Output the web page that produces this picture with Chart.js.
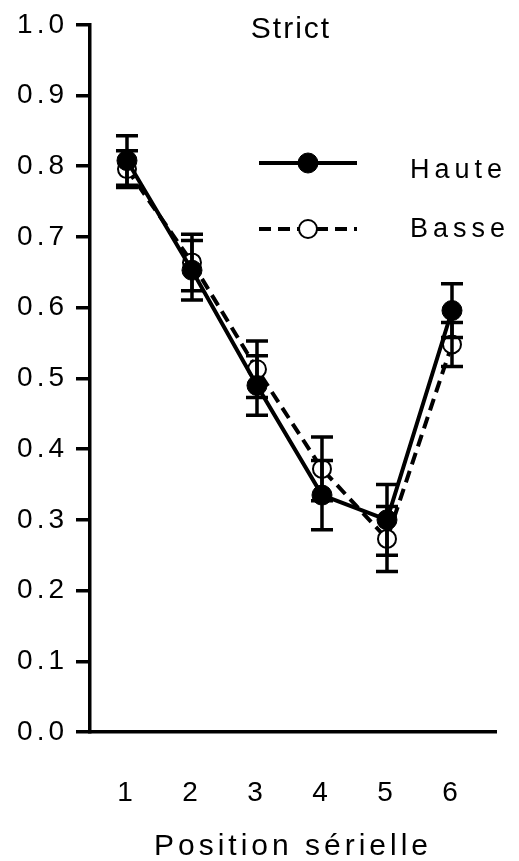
<!DOCTYPE html>
<html>
<head>
<meta charset="utf-8">
<title>Strict</title>
<script src="https://cdn.jsdelivr.net/npm/chart.js@4.4.1/dist/chart.umd.min.js"></script>
<style>
  html, body { margin: 0; padding: 0; background: #fff; }
  canvas { display: block; }
</style>
</head>
<body>
<canvas id="chart" width="519" height="861"></canvas>
<script>
// data
const positions = [1, 2, 3, 4, 5, 6];
const hauteValues = [0.808, 0.653, 0.490, 0.335, 0.300, 0.596];
const hauteErrors = [0.035, 0.042, 0.042, 0.049, 0.050, 0.038];
const basseValues = [0.796, 0.664, 0.513, 0.372, 0.273, 0.548];
const basseErrors = [0.026, 0.040, 0.040, 0.045, 0.046, 0.031];
const yTickValues = [0, 0.1, 0.2, 0.3, 0.4, 0.5, 0.6, 0.7, 0.8, 0.9, 1.0];
const seriesNames = ['Haute', 'Basse'];
const chartTitle = 'Strict';
const xTitle = 'Position sérielle';

const FONT = 'Liberation Sans, Arial, sans-serif';

document.addEventListener('DOMContentLoaded', () => {
    const ctx = document.getElementById('chart').getContext('2d');

    // vertical error bars with caps, drawn over the lines
    const errorBars = {
        id: 'errorBars',
        afterDatasetsDraw(chart) {
            const c = chart.ctx;
            const { x, y } = chart.scales;
            c.save();
            c.strokeStyle = '#000';
            c.lineWidth = 3.5;
            chart.data.datasets.forEach(ds => {
                ds.data.forEach((pt, i) => {
                    const err = ds.errors[i];
                    const px = x.getPixelForValue(pt.x);
                    const top = y.getPixelForValue(pt.y + err);
                    const bot = y.getPixelForValue(pt.y - err);
                    c.beginPath();
                    c.moveTo(px, top); c.lineTo(px, bot);
                    c.moveTo(px - 11, top); c.lineTo(px + 11, top);
                    c.moveTo(px - 11, bot); c.lineTo(px + 11, bot);
                    c.stroke();
                });
            });
            c.restore();
        }
    };

    // title + legend drawn by hand to sit inside the plot like the original
    const annotations = {
        id: 'annotations',
        beforeDraw(chart) {
            chart.ctx.letterSpacing = '4px';
        },
        afterDraw(chart) {
            const c = chart.ctx;
            c.save();
            c.fillStyle = '#000';
            c.letterSpacing = '2px';
            c.font = '30px ' + FONT;
            c.textAlign = 'center';
            c.textBaseline = 'middle';
            c.fillText(chartTitle, 291, 30);

            const rows = [163, 229];
            chart.data.datasets.forEach((ds, i) => {
                const ly = rows[i];
                c.strokeStyle = '#000';
                c.lineWidth = 4;
                c.setLineDash(ds.borderDash || []);
                c.beginPath();
                c.moveTo(259, ly); c.lineTo(357, ly);
                c.stroke();
                c.setLineDash([]);
                c.beginPath();
                c.arc(308, ly, ds.pointRadius, 0, Math.PI * 2);
                c.fillStyle = ds.pointBackgroundColor;
                c.fill();
                c.lineWidth = ds.pointBorderWidth;
                c.stroke();
                c.fillStyle = '#000';
                c.letterSpacing = '5px';
                c.font = '27px ' + FONT;
                c.textAlign = 'left';
                c.fillText(ds.label, 410, ly + (i === 0 ? 8 : 1));
            });
            c.restore();
        }
    };

    new Chart(ctx, {
        type: 'line',
        data: {
            datasets: [{
                label: seriesNames[0],
                data: positions.map((p, i) => ({ x: p, y: hauteValues[i] })),
                errors: hauteErrors,
                borderColor: '#000',
                borderWidth: 4,
                pointRadius: 10,
                pointBackgroundColor: '#000',
                pointBorderColor: '#000',
                pointBorderWidth: 1,
                tension: 0
            }, {
                label: seriesNames[1],
                data: positions.map((p, i) => ({ x: p, y: basseValues[i] })),
                errors: basseErrors,
                borderColor: '#000',
                borderWidth: 4,
                borderDash: [12, 7],
                pointRadius: 9,
                pointBackgroundColor: '#fff',
                pointBorderColor: '#000',
                pointBorderWidth: 2,
                tension: 0
            }]
        },
        options: {
            responsive: false,
            animation: false,
            devicePixelRatio: 1,
            layout: { padding: { top: 14, right: 23, left: 0, bottom: 0 } },
            plugins: {
                legend: { display: false },
                tooltip: { enabled: false }
            },
            scales: {
                x: {
                    type: 'linear',
                    min: 0.431,
                    max: 6.677,
                    afterBuildTicks: scale => {
                        scale.ticks = positions.map(v => ({ value: v }));
                    },
                    afterFit: scale => { scale.height = 129; },
                    grid: { display: false, drawTicks: false },
                    border: { display: true, color: '#000', width: 3.5 },
                    ticks: {
                        color: '#000',
                        font: { family: FONT, size: 28 },
                        padding: 44,
                        maxRotation: 0,
                        autoSkip: false,
                        callback: v => String(v)
                    },
                    title: {
                        display: true,
                        text: xTitle,
                        color: '#000',
                        font: { family: FONT, size: 30 },
                        padding: { top: 0, bottom: -4 }
                    }
                },
                y: {
                    min: 0,
                    max: 1,
                    afterBuildTicks: scale => {
                        scale.ticks = yTickValues.map(v => ({ value: v }));
                    },
                    afterFit: scale => { scale.width = 90; },
                    grid: {
                        display: true,
                        drawOnChartArea: false,
                        drawTicks: true,
                        tickLength: 14,
                        lineWidth: 3.5,
                        color: '#000'
                    },
                    border: { display: true, color: '#000', width: 3.5 },
                    ticks: {
                        color: '#000',
                        font: { family: FONT, size: 28 },
                        padding: 8,
                        callback: v => v.toFixed(1)
                    }
                }
            }
        },
        plugins: [errorBars, annotations]
    });
});
</script>
</body>
</html>
